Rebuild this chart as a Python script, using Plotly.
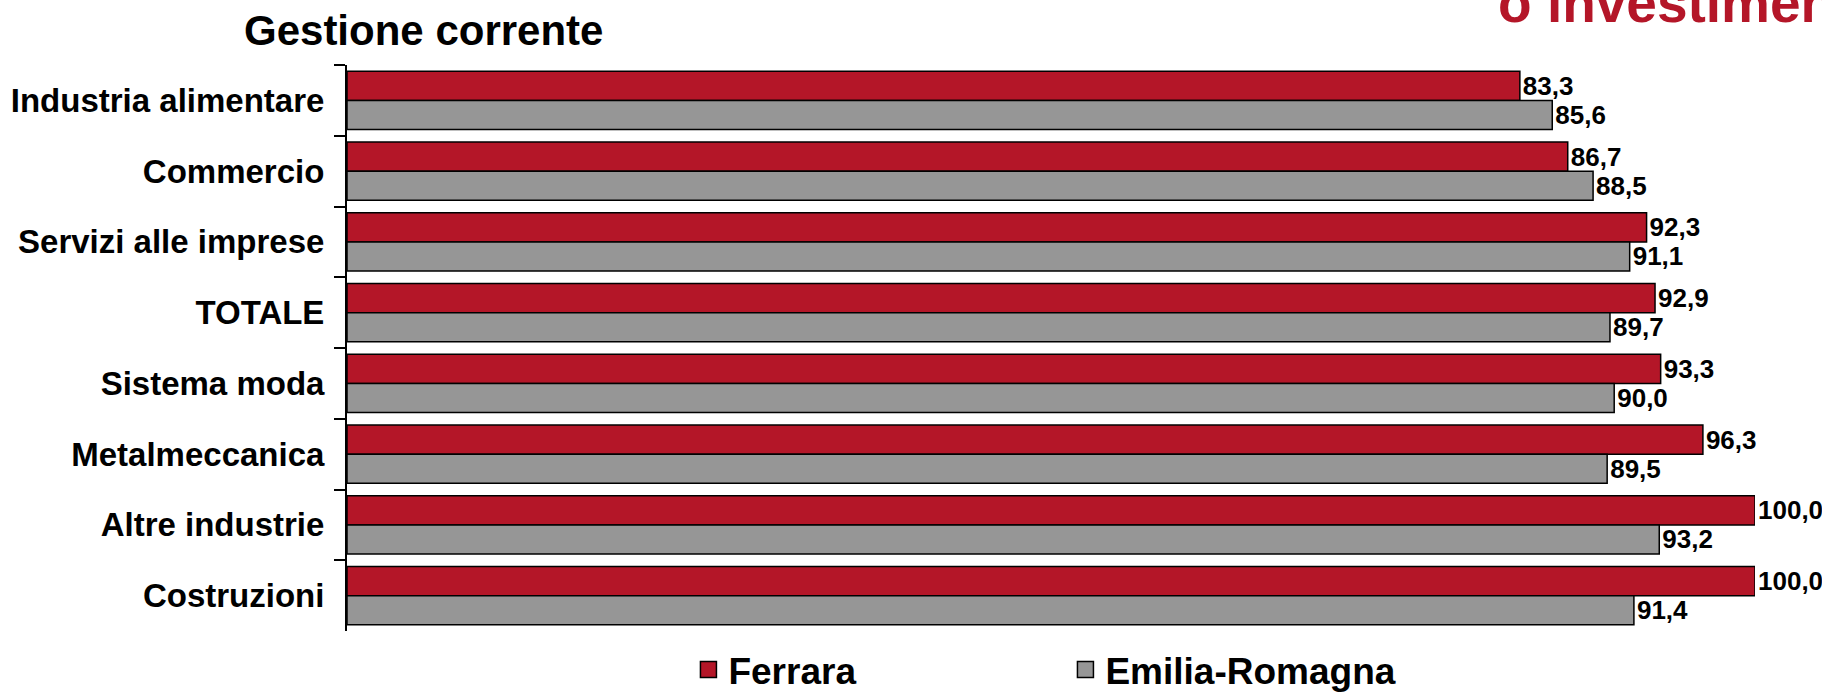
import plotly.graph_objects as go

categories = ["Industria alimentare", "Commercio", "Servizi alle imprese", "TOTALE",
              "Sistema moda", "Metalmeccanica", "Altre industrie", "Costruzioni"]
ferrara = [83.3, 86.7, 92.3, 92.9, 93.3, 96.3, 100.0, 100.0]
emilia_romagna = [85.6, 88.5, 91.1, 89.7, 90.0, 89.5, 93.2, 91.4]
series_names = ["Ferrara", "Emilia-Romagna"]

RED = "#B41628"
GRAY = "#969696"
FONT = "Liberation Sans, Arial, sans-serif"

fig = go.Figure()
for name, vals, col in [(series_names[0], ferrara, RED), (series_names[1], emilia_romagna, GRAY)]:
    fig.add_trace(go.Bar(
        y=categories, x=vals, name=name, orientation="h", showlegend=False,
        marker=dict(color=col, line=dict(color="black", width=1.5)),
        texttemplate="%{x:.1f}", textposition="outside", cliponaxis=False,
        constraintext="none",
        textfont=dict(family=FONT, size=26, color="black", weight="bold"),
    ))
# legend entries (square markers, larger than bar legend swatches)
for name, col in [(series_names[0], RED), (series_names[1], GRAY)]:
    fig.add_trace(go.Scatter(
        x=[None], y=[None], mode="markers", name=name, showlegend=True,
        marker=dict(symbol="square", size=20, color=col, line=dict(color="black", width=1.5)),
    ))

fig.update_layout(
    width=1822, height=693,
    margin=dict(l=347, r=67, t=65, b=62, autoexpand=False),
    paper_bgcolor="white", plot_bgcolor="white",
    barmode="group", bargap=0.18, bargroupgap=0,
    separators=",.",
    font=dict(family=FONT, color="black"),
    xaxis=dict(visible=False, range=[0, 100], fixedrange=True),
    yaxis=dict(
        type="category", autorange="reversed", categoryorder="array", categoryarray=categories,
        tickson="boundaries", ticks="outside", ticklen=11, tickwidth=2, tickcolor="black",
        ticklabelstandoff=14,
        showline=True, linecolor="black", linewidth=2, showgrid=False, zeroline=False,
        tickfont=dict(family=FONT, size=33, color="black", weight="bold"),
    ),
    legend=dict(
        orientation="h", x=0.2425, xanchor="left", y=-0.069, yanchor="middle",
        font=dict(family=FONT, size=37, color="black", weight="bold"),
        entrywidth=332, entrywidthmode="pixels",
        bgcolor="rgba(0,0,0,0)",
    ),
    showlegend=True,
    annotations=[
        dict(text="Gestione corrente", xref="paper", yref="paper",
             x=(423 - 347) / 1408, y=(631 - 30.5) / 566, xanchor="center", yanchor="middle",
             showarrow=False, font=dict(family=FONT, size=42, color="black", weight="bold")),
        dict(text="o investimenti", xref="paper", yref="paper",
             x=(1496 - 347) / 1408, y=(631 - 3) / 566, xanchor="left", yanchor="middle",
             showarrow=False, font=dict(family=FONT, size=55, color=RED, weight="bold")),
    ],
)

fig.write_html("out.html", config={"displayModeBar": False},
               post_script="document.body.style.margin='0';")
